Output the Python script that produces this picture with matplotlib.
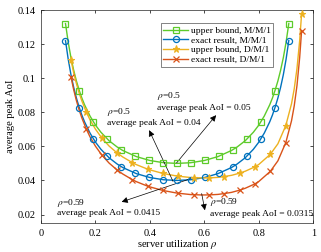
import matplotlib
matplotlib.use("Agg")
import matplotlib.pyplot as plt
from matplotlib.lines import Line2D

# ---- data ----
# M/M/1 curves (dense points for the line)
rho_mm = [0.09, 0.10, 0.11, 0.12, 0.13, 0.14, 0.15, 0.16, 0.18, 0.20, 0.22, 0.25,
          0.28, 0.30, 0.35, 0.40, 0.45, 0.50, 0.55, 0.60, 0.65, 0.70, 0.72, 0.75,
          0.78, 0.80, 0.82, 0.84, 0.85, 0.86, 0.87, 0.88, 0.89, 0.90, 0.91]
exact_mm = [0.1221, 0.1111, 0.1021, 0.0947, 0.0884, 0.0831, 0.0784, 0.0744, 0.0678,
            0.0625, 0.0583, 0.0533, 0.0496, 0.0476, 0.0440, 0.0417, 0.0404, 0.0400,
            0.0404, 0.0417, 0.0440, 0.0476, 0.0496, 0.0533, 0.0583, 0.0625, 0.0678,
            0.0744, 0.0784, 0.0831, 0.0884, 0.0947, 0.1021, 0.1111, 0.1221]
upper_mm = [0.1321, 0.1211, 0.1121, 0.1047, 0.0984, 0.0931, 0.0884, 0.0844, 0.0778,
            0.0725, 0.0683, 0.0633, 0.0596, 0.0576, 0.0540, 0.0517, 0.0504, 0.0500,
            0.0504, 0.0517, 0.0540, 0.0576, 0.0596, 0.0633, 0.0683, 0.0725, 0.0778,
            0.0844, 0.0884, 0.0931, 0.0984, 0.1047, 0.1121, 0.1211, 0.1321]
# M/M/1 marker points
rho_mm_mk = [0.09, 0.14125, 0.1925, 0.24375, 0.295, 0.34625, 0.3975, 0.44875, 0.50,
             0.55125, 0.6025, 0.65375, 0.705, 0.75625, 0.8075, 0.85875, 0.91]
exact_mm_mk = [0.1221, 0.0824, 0.0643, 0.0542, 0.0481, 0.0442, 0.0418, 0.0404, 0.0400,
               0.0404, 0.0418, 0.0442, 0.0481, 0.0542, 0.0643, 0.0824, 0.1221]
upper_mm_mk = [0.1321, 0.0924, 0.0743, 0.0642, 0.0581, 0.0542, 0.0518, 0.0504, 0.0500,
               0.0504, 0.0518, 0.0542, 0.0581, 0.0642, 0.0743, 0.0924, 0.1321]

# D/M/1 curves (dense points for the line)
rho_dm = [0.11, 0.12, 0.13, 0.14, 0.15, 0.166, 0.18, 0.20, 0.223, 0.25, 0.279, 0.30,
          0.335, 0.35, 0.392, 0.40, 0.448, 0.50, 0.55, 0.59, 0.617, 0.65, 0.673, 0.70,
          0.73, 0.75, 0.786, 0.80, 0.842, 0.87, 0.899, 0.92, 0.93, 0.94, 0.95, 0.957]
exact_dm = [0.1009, 0.0933, 0.0869, 0.0814, 0.0767, 0.0703, 0.0656, 0.0601, 0.0550,
            0.0502, 0.0462, 0.0438, 0.0405, 0.0393, 0.0366, 0.0362, 0.0341, 0.03255,
            0.0317, 0.03147, 0.0315, 0.0318, 0.0323, 0.0330, 0.0343, 0.0354, 0.0380,
            0.0394, 0.0453, 0.0515, 0.0622, 0.0750, 0.0838, 0.0956, 0.1122, 0.1277]
upper_dm = [0.1109, 0.1033, 0.0969, 0.0914, 0.0867, 0.0803, 0.0756, 0.0701, 0.0650,
            0.0602, 0.0562, 0.0538, 0.0505, 0.0493, 0.0466, 0.0462, 0.0441, 0.04255,
            0.0417, 0.04147, 0.0415, 0.0418, 0.0423, 0.0430, 0.0443, 0.0454, 0.0480,
            0.0494, 0.0553, 0.0615, 0.0722, 0.0850, 0.0938, 0.1056, 0.1222, 0.1377]
# D/M/1 marker points
rho_dm_mk = [0.11, 0.166, 0.223, 0.279, 0.335, 0.392, 0.448, 0.504, 0.561, 0.617,
             0.673, 0.73, 0.786, 0.842, 0.899, 0.957]
exact_dm_mk = [0.1009, 0.0703, 0.0550, 0.0462, 0.0405, 0.0366, 0.0341, 0.0325, 0.0316,
               0.0315, 0.0323, 0.0343, 0.0380, 0.0453, 0.0622, 0.1277]
upper_dm_mk = [0.1109, 0.0803, 0.0650, 0.0562, 0.0505, 0.0466, 0.0441, 0.0425, 0.0416,
               0.0415, 0.0423, 0.0443, 0.0480, 0.0553, 0.0722, 0.1377]

labels = ["upper bound, M/M/1", "exact result, M/M/1",
          "upper bound, D/M/1", "exact result, D/M/1"]
xticks = [0, 0.2, 0.4, 0.6, 0.8, 1]
yticks = [0.02, 0.04, 0.06, 0.08, 0.10, 0.12, 0.14]
ytick_labels = ["0.02", "0.04", "0.06", "0.08", "0.1", "0.12", "0.14"]
xtick_labels = ["0", "0.2", "0.4", "0.6", "0.8", "1"]

# ---- style ----
plt.rcParams['font.family'] = ['Liberation Serif', 'DejaVu Serif']
plt.rcParams['mathtext.fontset'] = 'stix'
FS = 7.0
FS_TICK = 7.4
FS_LAB = 7.6

c_green = '#5DCB2A'
c_blue = '#0072BD'
c_orange = '#EDB120'
c_red = '#D95319'

fig = plt.figure(figsize=(3.21, 2.52), dpi=100)
ax = fig.add_axes([0.1277, 0.115, 0.976 - 0.1277, 0.960 - 0.115])

lw = 1.0
ms = 4.4
specs = [
    (rho_mm, upper_mm, rho_mm_mk, upper_mm_mk, c_green,
     dict(marker='s', markerfacecolor='none', markersize=ms, markeredgewidth=0.9)),
    (rho_mm, exact_mm, rho_mm_mk, exact_mm_mk, c_blue,
     dict(marker='o', markerfacecolor='none', markersize=ms, markeredgewidth=0.9)),
    (rho_dm, upper_dm, rho_dm_mk, upper_dm_mk, c_orange,
     dict(marker='*', markersize=ms + 0.8, markeredgewidth=0.8)),
    (rho_dm, exact_dm, rho_dm_mk, exact_dm_mk, c_red,
     dict(marker='x', markersize=ms - 0.4, markeredgewidth=0.9)),
]
handles = []
for (xl, yl, xm, ym, col, mk), lab in zip(specs, labels):
    ax.plot(xl, yl, color=col, lw=lw, zorder=3)
    ax.plot(xm, ym, linestyle='none', color=col, zorder=4, **mk)
    handles.append(Line2D([], [], color=col, lw=lw, **mk))

ax.set_xlim(0, 1)
ax.set_ylim(0.015, 0.14)
ax.set_xticks(xticks)
ax.set_xticklabels(xtick_labels)
ax.set_yticks(yticks)
ax.set_yticklabels(ytick_labels)
ax.tick_params(direction='in', top=True, right=True, length=2.5, width=0.5,
               labelsize=FS_TICK, pad=4)
for s in ax.spines.values():
    s.set_linewidth(0.5)
    s.set_color('#262626')

ax.set_xlabel(r'server utilization $\rho$', fontsize=FS_LAB, labelpad=0)
ax.set_ylabel('average peak AoI', fontsize=FS_LAB, labelpad=2)

leg = ax.legend(handles, labels, loc='upper left', bbox_to_anchor=(0.439, 0.937),
                fontsize=FS - 0.2, frameon=True, fancybox=False, borderpad=0.3,
                handlelength=2.6, handletextpad=0.3, labelspacing=0.12,
                borderaxespad=0)
leg.get_frame().set_linewidth(0.5)
leg.get_frame().set_edgecolor('#262626')

# ---- annotations ----
ap = dict(arrowstyle='-|>', lw=0.5, color='k', mutation_scale=9,
          shrinkA=0, shrinkB=0)
tk = dict(fontsize=FS - 0.2, ha='left', va='center')

ax.text(0.427, 0.0897, r'$\rho$=0.5', **tk)
ax.text(0.427, 0.0828, 'average peak AoI = 0.05', **tk)
ax.annotate('', xy=(0.643, 0.0783), xytext=(0.498, 0.0503), arrowprops=ap)

ax.text(0.243, 0.0799, r'$\rho$=0.5', **tk)
ax.text(0.243, 0.0738, 'average peak AoI = 0.04', **tk)
ax.annotate('', xy=(0.397, 0.0695), xytext=(0.485, 0.0394), arrowprops=ap)

ax.text(0.06, 0.0265, r'$\rho$=0.59', **tk)
ax.text(0.06, 0.0206, 'average peak AoI = 0.0415', **tk)
ax.annotate('', xy=(0.296, 0.0274), xytext=(0.551, 0.0411), arrowprops=ap)

ax.text(0.621, 0.0274, r'$\rho$=0.59', **tk)
ax.text(0.621, 0.0202, 'average peak AoI = 0.0315', **tk)
ax.annotate('', xy=(0.602, 0.0225), xytext=(0.590, 0.0323), arrowprops=ap)

fig.savefig('out.png', dpi=100)
